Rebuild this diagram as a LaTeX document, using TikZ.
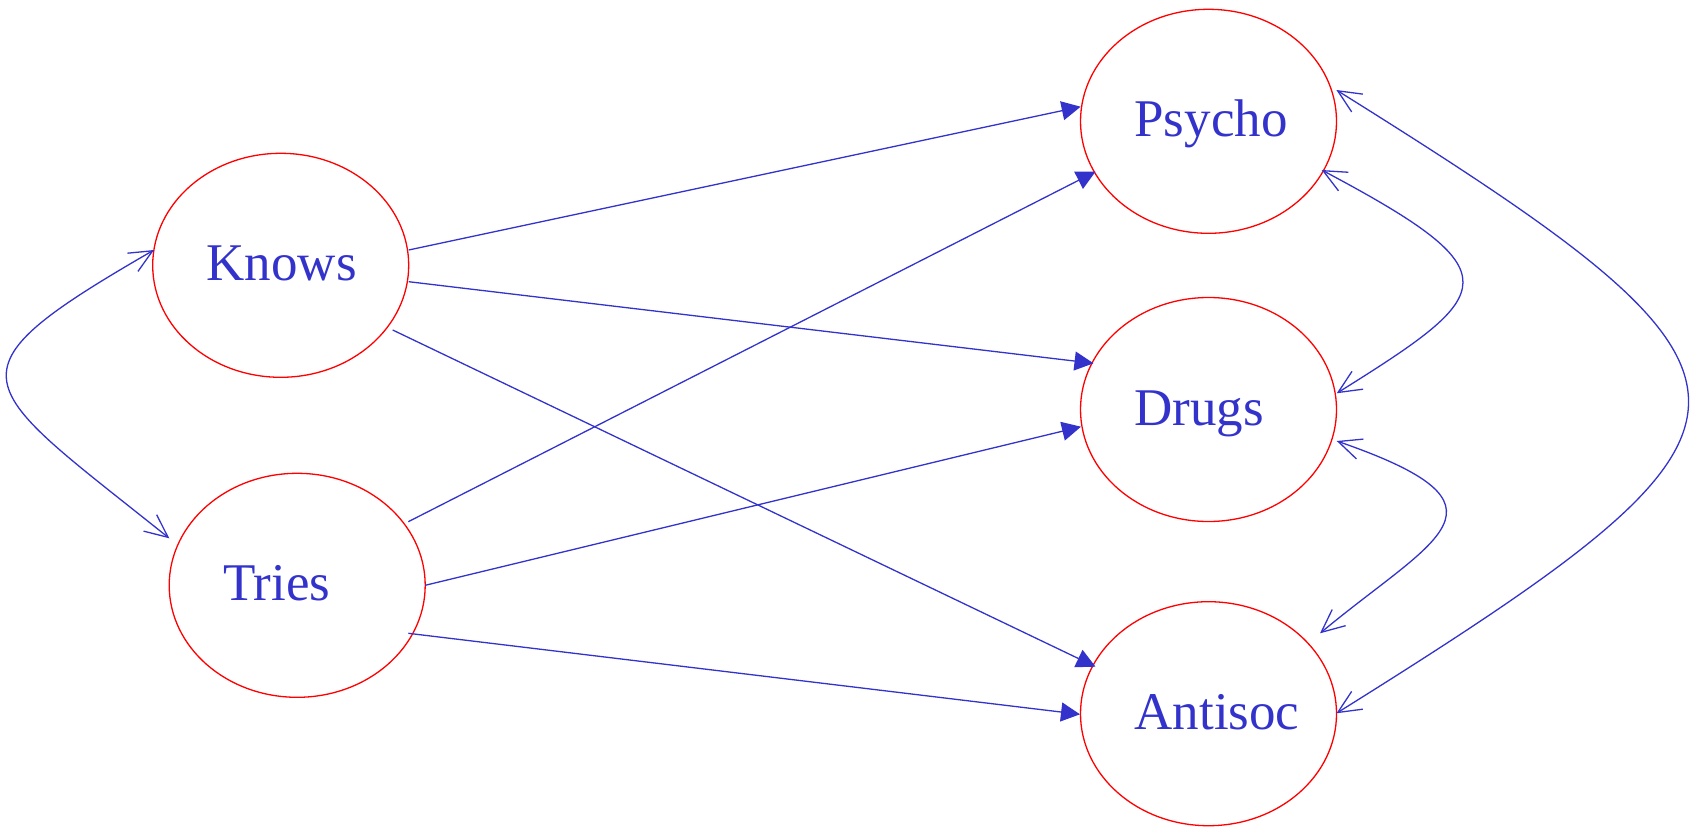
\documentclass[tikz,border=0pt]{standalone}
\usepackage{fontspec}
\setmainfont{Liberation Serif}
\usetikzlibrary{arrows.meta,shapes.geometric,calc}
\definecolor{edgeblue}{RGB}{51,51,204}
\definecolor{nodered}{RGB}{255,0,0}
\begin{document}
\begin{tikzpicture}[x=1pt,y=-1pt,
  var/.style={ellipse, draw=nodered, line width=1.3pt, minimum width=256pt, minimum height=224pt,
    inner sep=0pt, text width=148pt, align=left, text height=36pt, text depth=5pt,
    text=edgeblue, font=\fontsize{53}{60}\selectfont},
  regarrow/.style={draw=edgeblue, line width=1.3pt, -{Triangle[length=19pt,width=19pt]}},
  covarrow/.style={draw=edgeblue, line width=1.3pt,
    {Straight Barb[length=23pt,width=21pt]}-{Straight Barb[length=23pt,width=21pt]}}]
\useasboundingbox (0,0) rectangle (1699,827);

\node[var] (Knows)   at (280.7,265.3)  {Knows};
\node[var] (Tries)   at (297.2,585.3)  {Tries};
\node[var] (Psycho)  at (1208.5,121.3) {Psycho};
\node[var] (Drugs)   at (1208.5,409.5) {Drugs};
\node[var] (Antisoc) at (1208.5,713.7) {Antisoc};

% regressions
\draw[regarrow] ($(Knows)+(128,-15.3)$) -- ($(Psycho)+(-127.8,-14.6)$);
\draw[regarrow] ($(Knows)+(128,16.4)$) -- ($(Drugs)+(-115,-46.2)$);
\draw[regarrow] ($(Knows)+(112,64.7)$) -- ($(Antisoc)+(-113,-47)$);
\draw[regarrow] ($(Tries)+(111.1,-63.6)$) -- ($(Psycho)+(-113,50.4)$);
\draw[regarrow] ($(Tries)+(128,0)$) -- ($(Drugs)+(-127.5,17.2)$);
\draw[regarrow] ($(Tries)+(111.1,48)$) -- ($(Antisoc)+(-128.5,0.6)$);

% covariances
\draw[covarrow] ($(Knows)+(-126.7,-15.3)$) .. controls +(-216.5,125) and +(-195,-156.25) .. ($(Tries)+(-127.9,-47)$);
\draw[covarrow] ($(Psycho)+(113.2,48.7)$) .. controls +(194.3,103.2) and +(161.1,-100.7) .. ($(Drugs)+(128.2,-16.2)$);
\draw[covarrow] ($(Drugs)+(128.2,31.5)$) .. controls +(189,65.4) and +(115.5,-96) .. ($(Antisoc)+(111.5,-80.4)$);
\draw[covarrow] ($(Psycho)+(127.9,-31.3)$) .. controls +(468.9,293.1) and +(468.9,-293.1) .. ($(Antisoc)+(127.9,-0.4)$);
\end{tikzpicture}
\end{document}
